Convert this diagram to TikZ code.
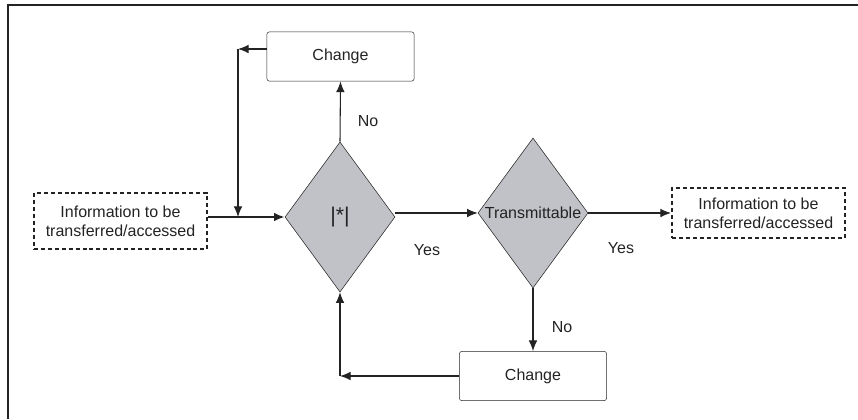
\documentclass[tikz,border=0pt]{standalone}
\usepackage{fontspec}
\setmainfont{Liberation Sans}
\usetikzlibrary{shapes.geometric,arrows.meta}

\definecolor{diagray}{RGB}{192,194,199}
\definecolor{linegray}{RGB}{35,35,35}

\begin{document}
\begin{tikzpicture}[x=0.75pt,y=0.75pt,yscale=-1,xscale=1,
  every node/.style={font=\fontsize{12}{14.25}\selectfont, text=linegray},
  decision/.style={diamond, draw=linegray, fill=diagray, inner sep=0pt,
    minimum width=82.5pt, minimum height=112.5pt},
  changebox/.style={rectangle, rounded corners=2pt, draw=linegray,
    minimum width=110.5pt, minimum height=37pt},
  infobox/.style={rectangle, draw=linegray, line width=1.5pt,
    dash pattern=on 3pt off 2.2pt, align=center, minimum width=129.75pt},
  flow/.style={draw=linegray, line width=0.8pt, -{Latex[length=8pt,width=6.5pt]}}
]

\useasboundingbox (0,0) rectangle (858,419);

%%%%%%%%%%%%%%%%%%%%%%%%%%%%%%%%%%%%%%%%%%%%%%%%%%%%%%%%%%%%%%%%%%%%%%%%

\draw [linegray, line width=0.8pt] (8,419) -- (8,5) -- (858,5);

\node [infobox, minimum height=42pt] (infoin) at (120.5,221) {Information to be\\transferred/accessed};
\node [decision] (check) at (340,217) {\fontsize{16}{19}\selectfont |*|};
\node [decision] (trans) at (533,213) {\makebox[0pt]{Transmittable}};
\node [infobox, minimum height=37.5pt] (infoout) at (758.5,213) {Information to be\\transferred/accessed};

\node [changebox] (changetop) at (340.5,56.5) {Change};
\node [changebox] (changebot) at (533,376) {Change};

%%%%%%%%%%%%%%%%%%%%%%%%%%%%%%%%%%%%%%%%%%%%%%%%%%%%%%%%%%%%%%%%%%%%%%%%

\coordinate (loopup) at (238,49);
\coordinate (loopdown) at (check.south |- changebot.west);

\draw [flow, line width=1.5pt] (infoin.east |- check.west) -- (check.west);
\draw [flow] (check.east |- trans.west) -- (trans.west);
\draw [flow] (trans.east) -- (trans.east -| infoout.west);

\draw [flow] (check.north) -- (changetop.south);
\draw [flow] (changetop.west |- loopup) -- (loopup);
\draw [flow] (loopup) -- (loopup |- check.west);

\draw [flow] (trans.south) -- (changebot.north);
\draw [flow] (changebot.west) -- (loopdown);
\draw [flow] (loopdown) -- (check.south);

\node (nocheck) at (368,121) {No};
\node (yescheck) at (427,250) {Yes};
\node (yestrans) at (621,248) {Yes};
\node (notrans) at (562,327) {No};

%%%%%%%%%%%%%%%%%%%%%%%%%%%%%%%%%%%%%%%%%%%%%%%%%%%%%%%%%%%%%%%%%%%%%%%%

\end{tikzpicture}
\end{document}
